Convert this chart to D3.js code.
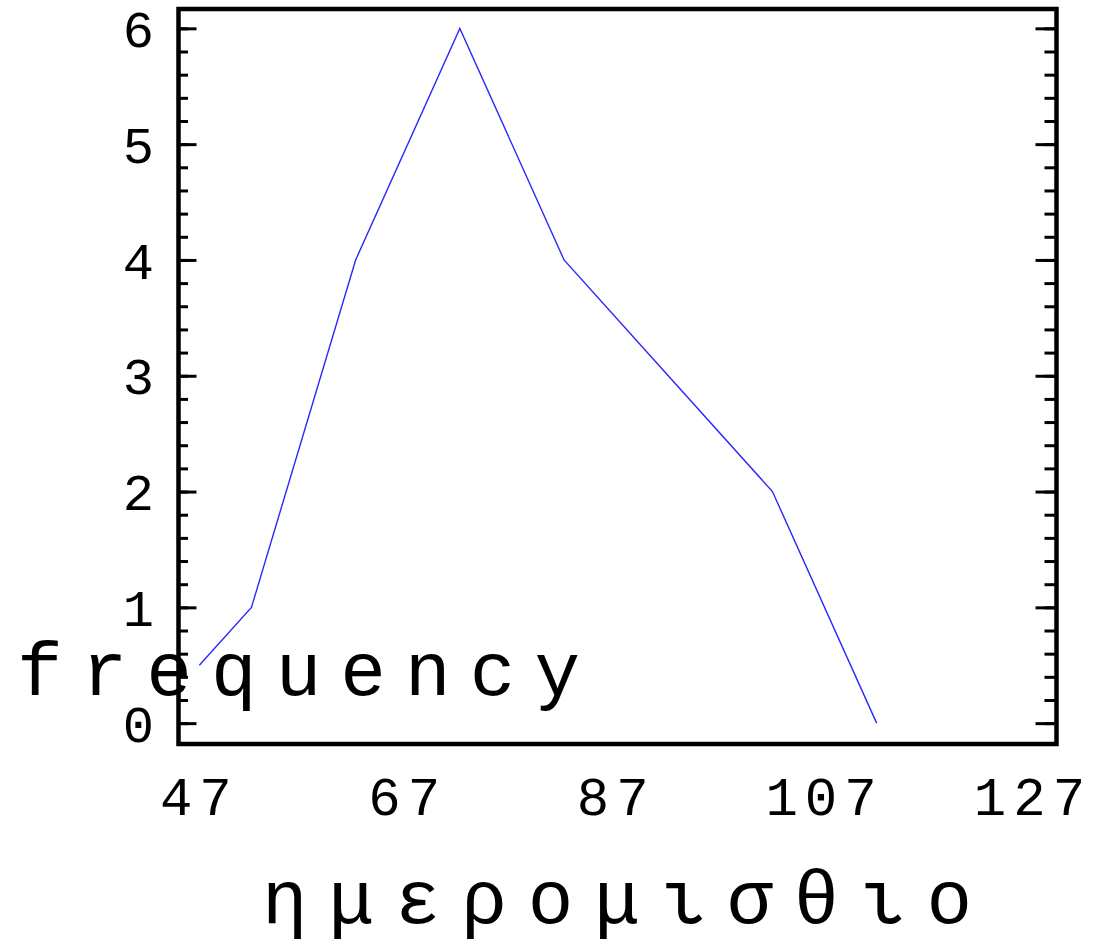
<!DOCTYPE html>
<html>
<head>
<meta charset="utf-8">
<script src="https://cdn.jsdelivr.net/npm/d3@7"></script>
<style>
  html, body { margin: 0; padding: 0; background: #fff; }
  svg { display: block; }
  text { font-family: "Liberation Mono", "DejaVu Sans Mono", monospace; fill: #000; }
</style>
</head>
<body>
<script>
// Data (frequency polygon)
const classMidpoints = [47, 52, 62, 72, 82, 92, 102, 112];
const frequencies    = [0.5, 1, 4, 6, 4, 3, 2, 0];
const xTickValues = [47, 67, 87, 107, 127];
const yTickValues = [0, 1, 2, 3, 4, 5, 6];
const yMinorTickValues = d3.range(0, 31).map(i => +(i * 0.2).toFixed(1)).filter(v => v <= 6);
const xTitle = "ημερομισθιο";
const yTitle = "frequency";

(function () {
const W = 1095, H = 941;
const mLeft = 178.5, mRight = 1056.5, mTop = 9, mBottom = 744;

const svg = d3.select("body").append("svg").attr("width", W).attr("height", H);

const x = d3.scaleLinear().domain([45, 129.26]).range([mLeft, mRight]);
const y = d3.scaleLinear().domain([-0.18, 6.167]).range([mBottom, mTop]);

// Left axis ticks (inward)
const gL = svg.append("g").attr("transform", `translate(${mLeft},0)`);
gL.call(d3.axisRight(y).tickValues(yMinorTickValues).tickSize(9.5).tickFormat(""));
gL.append("g").call(d3.axisRight(y).tickValues(yTickValues).tickSize(18).tickFormat(""));
// Right axis ticks (inward)
const gR = svg.append("g").attr("transform", `translate(${mRight},0)`);
gR.call(d3.axisLeft(y).tickValues(yMinorTickValues).tickSize(12).tickFormat(""));
gR.append("g").call(d3.axisLeft(y).tickValues(yTickValues).tickSize(21).tickFormat(""));
svg.selectAll(".domain").remove();
svg.selectAll(".tick line").attr("stroke", "#000").attr("stroke-width", 3);

// Frame
svg.append("rect")
  .attr("x", mLeft).attr("y", mTop)
  .attr("width", mRight - mLeft).attr("height", mBottom - mTop)
  .attr("fill", "none").attr("stroke", "#000").attr("stroke-width", 4.5);

// Y tick labels
svg.append("g").selectAll("text").data(yTickValues).join("text")
  .attr("x", 154).attr("y", d => y(d))
  .attr("dy", "0.36em")
  .attr("text-anchor", "end")
  .attr("font-size", 52)
  .text(d => d);

// X tick labels
svg.append("g").selectAll("text").data(xTickValues).join("text")
  .attr("x", d => x(d)).attr("y", 815)
  .attr("text-anchor", "middle")
  .attr("font-size", 54)
  .attr("letter-spacing", "7px")
  .attr("dx", 0)
  .text(d => d);

// Line
const line = d3.line().x((d, i) => x(classMidpoints[i])).y(d => y(d));
svg.append("path")
  .datum(frequencies)
  .attr("d", line)
  .attr("fill", "none")
  .attr("stroke", "#2828ff")
  .attr("stroke-width", 1.4);

// Titles
svg.append("text")
  .attr("x", 17).attr("y", 695)
  .attr("font-size", 76)
  .attr("textLength", 563)
  .attr("lengthAdjust", "spacing")
  .text(yTitle);

svg.append("text")
  .attr("x", 262).attr("y", 923)
  .attr("font-size", 76)
  .attr("textLength", 710)
  .attr("lengthAdjust", "spacing")
  .text(xTitle);
})();
</script>
</body>
</html>
